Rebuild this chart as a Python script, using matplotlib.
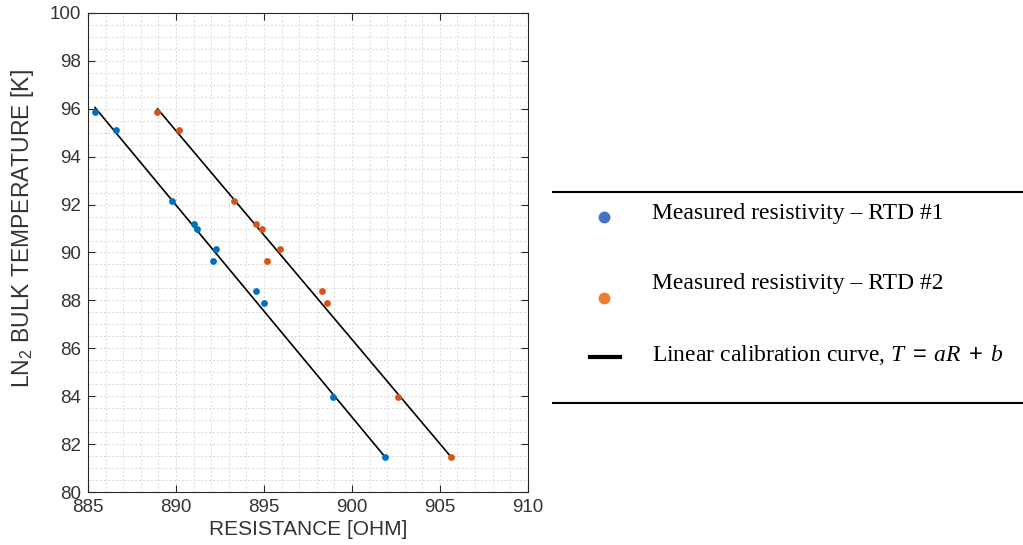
import numpy as np
import matplotlib.pyplot as plt
from matplotlib.ticker import MultipleLocator
from matplotlib.lines import Line2D

# RTD #1 measurements (resistance [ohm], temperature [K])
rtd1_r = [885.4, 886.6, 889.8, 891.0, 891.2, 892.3, 892.1, 894.55, 895.0, 898.9, 901.9]
rtd1_t = [95.88, 95.11, 92.15, 91.19, 91.0, 90.13, 89.64, 88.41, 87.88, 83.97, 81.45]

# RTD #2 measurements
rtd2_r = [888.95, 890.15, 893.3, 894.55, 894.9, 895.9, 895.15, 898.3, 898.6, 902.6, 905.65]
rtd2_t = [95.88, 95.11, 92.15, 91.19, 91.0, 90.13, 89.64, 88.41, 87.88, 83.97, 81.45]

# linear calibration curve end points
fit1_r = [885.4, 901.9]
fit1_t = [96.05, 81.45]
fit2_r = [888.95, 905.65]
fit2_t = [96.0, 81.45]

legend_labels = [
    "Measured resistivity \u2013 RTD #1",
    "Measured resistivity \u2013 RTD #2",
    r"Linear calibration curve, $T\;=\;aR\;+\;b$",
]

plt.rcParams["font.family"] = "Liberation Sans"
plt.rcParams["mathtext.fontset"] = "custom"
plt.rcParams["mathtext.rm"] = "Liberation Sans"
plt.rcParams["mathtext.it"] = "Liberation Serif:italic"

fig = plt.figure(figsize=(10.23, 5.45), dpi=100)
ax = fig.add_axes([0.086, 0.0972, 0.430, 0.879])

ax.plot(fit1_r, fit1_t, color="black", lw=1.2, zorder=2)
ax.plot(fit2_r, fit2_t, color="black", lw=1.2, zorder=2)
ax.scatter(rtd1_r, rtd1_t, s=24, color="#0072BD", zorder=3, linewidths=0)
ax.scatter(rtd2_r, rtd2_t, s=24, color="#D95319", zorder=3, linewidths=0)

ax.set_xlim(885, 910)
ax.set_ylim(80, 100)
ax.xaxis.set_major_locator(MultipleLocator(5))
ax.xaxis.set_minor_locator(MultipleLocator(1))
ax.yaxis.set_major_locator(MultipleLocator(2))
ax.yaxis.set_minor_locator(MultipleLocator(0.5))

ax.grid(which="both", linestyle=(0, (2, 2)), color="#d9d9d9", lw=0.7)
ax.set_axisbelow(True)
ax.tick_params(which="major", direction="in", length=5, width=0.8,
               labelsize=13.5, labelcolor="#333333", color="#262626",
               top=True, right=True, pad=5)
ax.tick_params(which="minor", length=0)
for sp in ax.spines.values():
    sp.set_color("#262626")
    sp.set_linewidth(0.8)

ax.set_xlabel("RESISTANCE [OHM]", fontsize=15, color="#333333", labelpad=3)
ax.set_ylabel(r"LN$_{\mathrm{2}}$ BULK TEMPERATURE [K]", fontsize=16.5,
              color="#333333")
ax.yaxis.set_label_coords(-0.119, 0.55)

# legend drawn as a separate table-like block on the right
fig.add_artist(Line2D([553 / 1023, 1.0], [1 - 192 / 545, 1 - 192 / 545],
                      color="black", lw=1.5))
fig.add_artist(Line2D([553 / 1023, 1.0], [1 - 403 / 545, 1 - 403 / 545],
                      color="black", lw=1.5))

fig.add_artist(Line2D([604 / 1023], [1 - 217 / 545], marker="o", ms=7.5,
                      color="#4472C4", lw=0))
fig.add_artist(Line2D([604 / 1023], [1 - 298 / 545], marker="o", ms=7.5,
                      color="#ED7D31", lw=0))
fig.add_artist(Line2D([590 / 1023, 620 / 1023], [1 - 357 / 545, 1 - 357 / 545],
                      color="black", lw=3))

text_y = [214, 284, 355]
for label, y in zip(legend_labels, text_y):
    fig.text(652 / 1023, 1 - y / 545, label, family="Liberation Serif",
             fontsize=17, va="center", ha="left")

fig.savefig("out.png", dpi=100)
